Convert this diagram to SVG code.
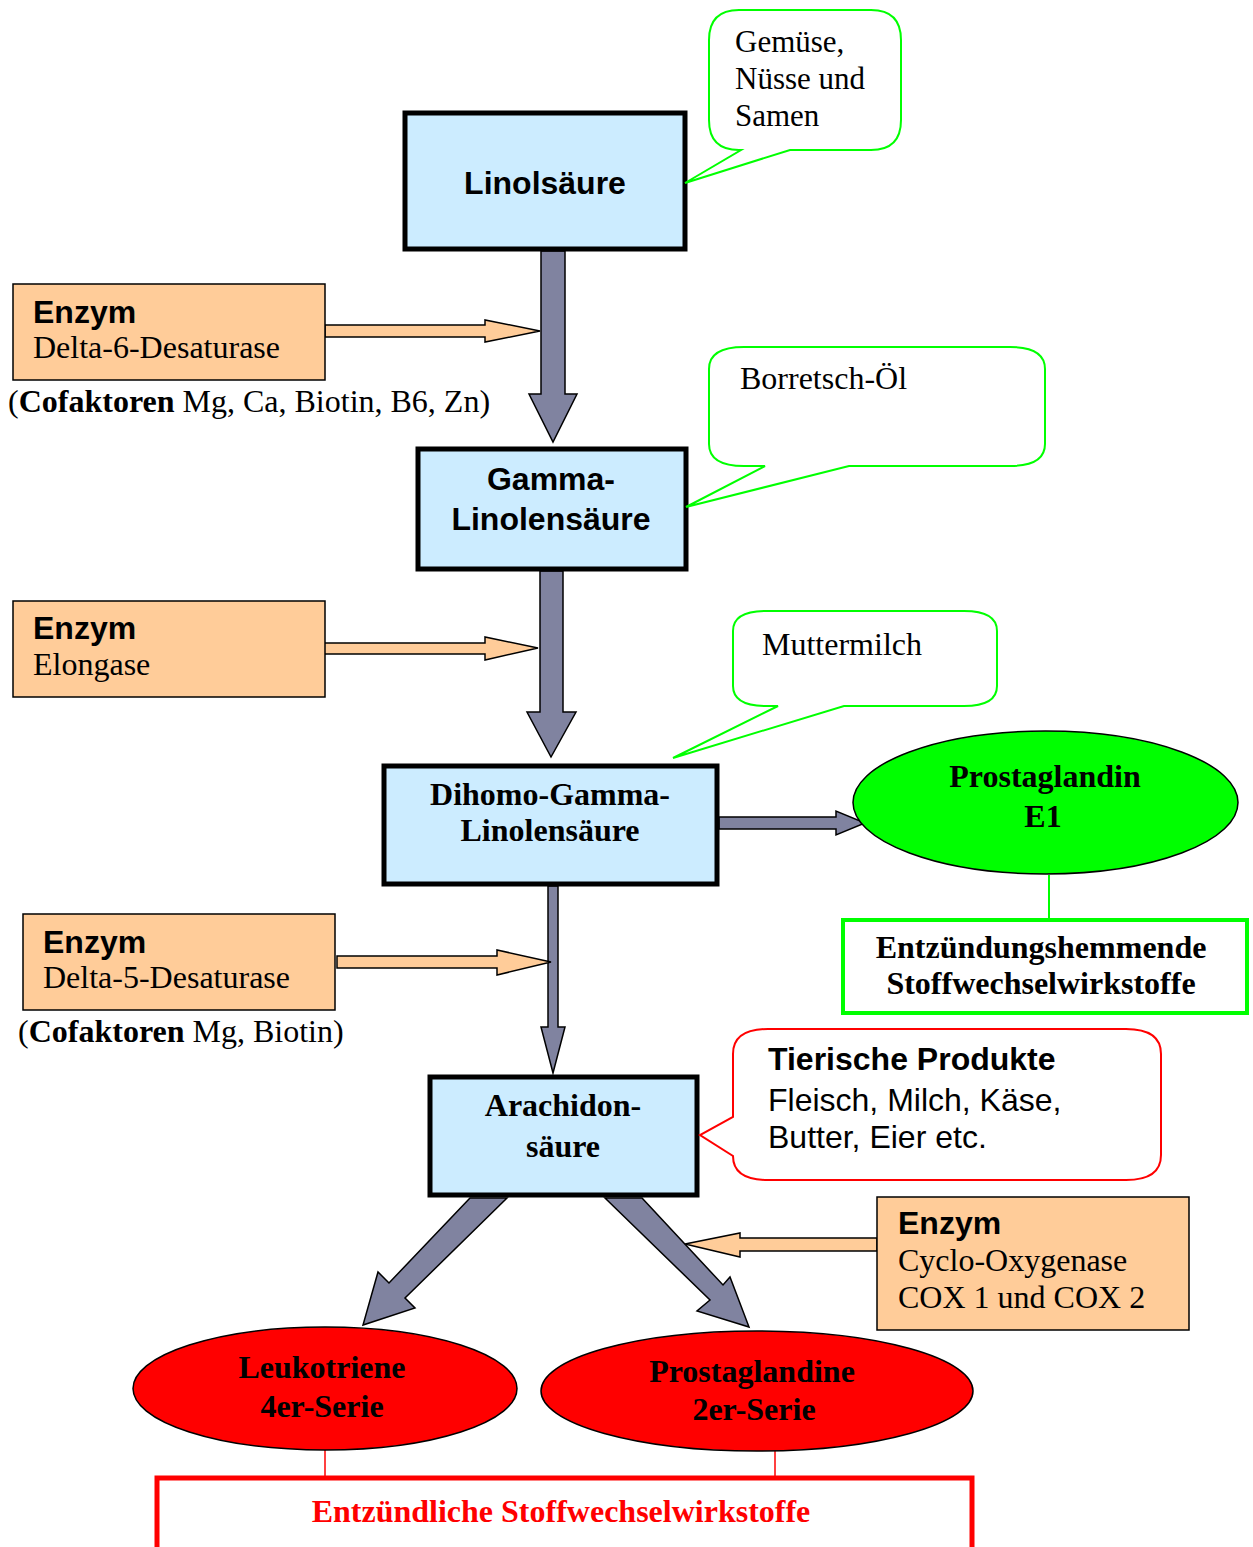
<svg xmlns="http://www.w3.org/2000/svg" width="1253" height="1547" viewBox="0 0 1253 1547">
<style>
.box{fill:#CCECFF;stroke:#000;stroke-width:5}
.enz{fill:#FFCC99;stroke:#000;stroke-width:1.5}
.gray{fill:#8083A0;stroke:#000;stroke-width:1.5;stroke-linejoin:miter}
.orng{fill:#FFCC99;stroke:#000;stroke-width:1.5}
.callg{fill:#fff;stroke:#00FF00;stroke-width:2}
.callr{fill:#fff;stroke:#FF0000;stroke-width:2}
.sans{font-family:"Liberation Sans",Arial,sans-serif;font-size:32px}
.serif{font-family:"Liberation Serif","Times New Roman",serif;font-size:32px}
.s31{font-size:31px}
.b{font-weight:bold}
.c{text-anchor:middle}
</style>
<rect width="1253" height="1547" fill="#fff"/>
<g id="connectors">
<polygon class="gray" points="541,251 565,251 565,394 577,394 553,442 529,394 541,394"/>
<polygon class="gray" points="540,571 563,571 563,712 576,712 551,757 527,712 540,712"/>
<polygon class="gray" points="548,886 558,886 558,1027 565,1027 553,1073 541,1027 548,1027"/>
<polygon class="gray" points="719,817 836,817 836,811 865,823 836,835 836,829 719,829"/>
<polygon class="gray" points="470,1198 507,1198 405,1298 415,1308 363,1325 378,1272 389,1283"/>
<polygon class="gray" points="605,1198 642,1198 723,1285 730,1277 749,1327 697,1311 710,1300"/>
<polygon class="orng" points="325,325 485,325 485,320 540,331 485,342 485,337 325,337"/>
<polygon class="orng" points="323,643 485,643 485,637 538,648 485,660 485,654 323,654"/>
<polygon class="orng" points="337,956 497,956 497,950 551,962 497,975 497,968 337,968"/>
<polygon class="orng" points="877,1238 740,1238 740,1233 685,1244 740,1257 740,1251 877,1251"/>
<line x1="1049" y1="875" x2="1049" y2="918" stroke="#00FF00" stroke-width="2"/>
<line x1="325" y1="1450" x2="325" y2="1477" stroke="#FF0000" stroke-width="1.5"/>
<line x1="775" y1="1451" x2="775" y2="1477" stroke="#FF0000" stroke-width="1.5"/>
</g>
<g id="linolsaeure">
<rect class="box" x="405" y="113" width="280" height="136"/>
<text class="sans b c" x="545" y="194">Linolsäure</text>
</g>
<g id="callout-gemuese">
<path class="callg" d="M739,10 H871 Q901,10 901,40 V120 Q901,150 871,150 H790 L685,183 L741,150 H739 Q709,150 709,120 V40 Q709,10 739,10 Z"/>
<text class="serif s31" x="735" y="52">Gemüse,</text>
<text class="serif s31" x="735" y="89">Nüsse und</text>
<text class="serif s31" x="735" y="126">Samen</text>
</g>
<g id="enzym-d6">
<rect class="enz" x="13" y="284" width="312" height="96"/>
<text class="sans b" x="33" y="323">Enzym</text>
<text class="serif" x="33" y="358">Delta-6-Desaturase</text>
<text class="serif" x="8" y="412">(<tspan class="b">Cofaktoren</tspan> Mg, Ca, Biotin, B6, Zn)</text>
</g>
<g id="gamma">
<rect class="box" x="418" y="449" width="268" height="120"/>
<text class="sans b c" x="551" y="490">Gamma-</text>
<text class="sans b c" x="551" y="530">Linolensäure</text>
</g>
<g id="callout-borretsch">
<path class="callg" d="M744,347 H1010 Q1045,347 1045,369 V444 Q1045,466 1010,466 H849 L686,507 L765,466 H744 Q709,466 709,444 V369 Q709,347 744,347 Z"/>
<text class="serif" x="740" y="389">Borretsch-Öl</text>
</g>
<g id="enzym-elongase">
<rect class="enz" x="13" y="601" width="312" height="96"/>
<text class="sans b" x="33" y="639">Enzym</text>
<text class="serif" x="33" y="675">Elongase</text>
</g>
<g id="callout-muttermilch">
<path class="callg" d="M766,611 H964 Q997,611 997,631 V686 Q997,706 964,706 H844 L673,758 L778,706 H766 Q733,706 733,686 V631 Q733,611 766,611 Z"/>
<text class="serif" x="762" y="655">Muttermilch</text>
</g>
<g id="dihomo">
<rect class="box" x="384" y="766" width="333" height="118"/>
<text class="serif b c" x="550" y="805">Dihomo-Gamma-</text>
<text class="serif b c" x="550" y="841">Linolensäure</text>
</g>
<g id="prostaglandin-e1">
<ellipse cx="1045.5" cy="802.5" rx="192.5" ry="71.5" fill="#00FF00" stroke="#000" stroke-width="1.5"/>
<text class="serif b c" x="1045" y="787">Prostaglandin</text>
<text class="serif b c" x="1043" y="827">E1</text>
</g>
<g id="entzuendungshemmende">
<rect x="843" y="920" width="404" height="93" fill="#fff" stroke="#00FF00" stroke-width="4"/>
<text class="serif b c" x="1041" y="958">Entzündungshemmende</text>
<text class="serif b c" x="1041" y="994">Stoffwechselwirkstoffe</text>
</g>
<g id="enzym-d5">
<rect class="enz" x="23" y="914" width="312" height="96"/>
<text class="sans b" x="43" y="953">Enzym</text>
<text class="serif" x="43" y="988">Delta-5-Desaturase</text>
<text class="serif" x="18" y="1042">(<tspan class="b">Cofaktoren</tspan> Mg, Biotin)</text>
</g>
<g id="arachidon">
<rect class="box" x="430" y="1077" width="267" height="118"/>
<text class="serif b c" x="563" y="1116">Arachidon-</text>
<text class="serif b c" x="563" y="1157">säure</text>
</g>
<g id="callout-tierisch">
<path class="callr" d="M768,1029 H1126 Q1161,1029 1161,1054 V1155 Q1161,1180 1126,1180 H768 Q733,1180 733,1156 L700,1135 L733,1117 V1054 Q733,1029 768,1029 Z"/>
<text class="sans b" x="768" y="1070">Tierische Produkte</text>
<text class="sans" x="768" y="1111">Fleisch, Milch, Käse,</text>
<text class="sans" x="768" y="1148">Butter, Eier etc.</text>
</g>
<g id="enzym-cox">
<rect class="enz" x="877" y="1197" width="312" height="133"/>
<text class="sans b" x="898" y="1234">Enzym</text>
<text class="serif" x="898" y="1271">Cyclo-Oxygenase</text>
<text class="serif" x="898" y="1308">COX 1 und COX 2</text>
</g>
<g id="leukotriene">
<ellipse cx="325" cy="1388.5" rx="192" ry="61.5" fill="#FF0000" stroke="#000" stroke-width="1.5"/>
<text class="serif b c" x="322" y="1378">Leukotriene</text>
<text class="serif b c" x="322" y="1417">4er-Serie</text>
</g>
<g id="prostaglandine">
<ellipse cx="757" cy="1391" rx="216" ry="60" fill="#FF0000" stroke="#000" stroke-width="1.5"/>
<text class="serif b c" x="752" y="1382">Prostaglandine</text>
<text class="serif b c" x="754" y="1420">2er-Serie</text>
</g>
<g id="entzuendliche">
<rect x="157" y="1478" width="815" height="100" fill="#fff" stroke="#FF0000" stroke-width="5"/>
<text class="serif b c" x="561" y="1522" fill="#FF0000">Entzündliche Stoffwechselwirkstoffe</text>
</g>
</svg>
